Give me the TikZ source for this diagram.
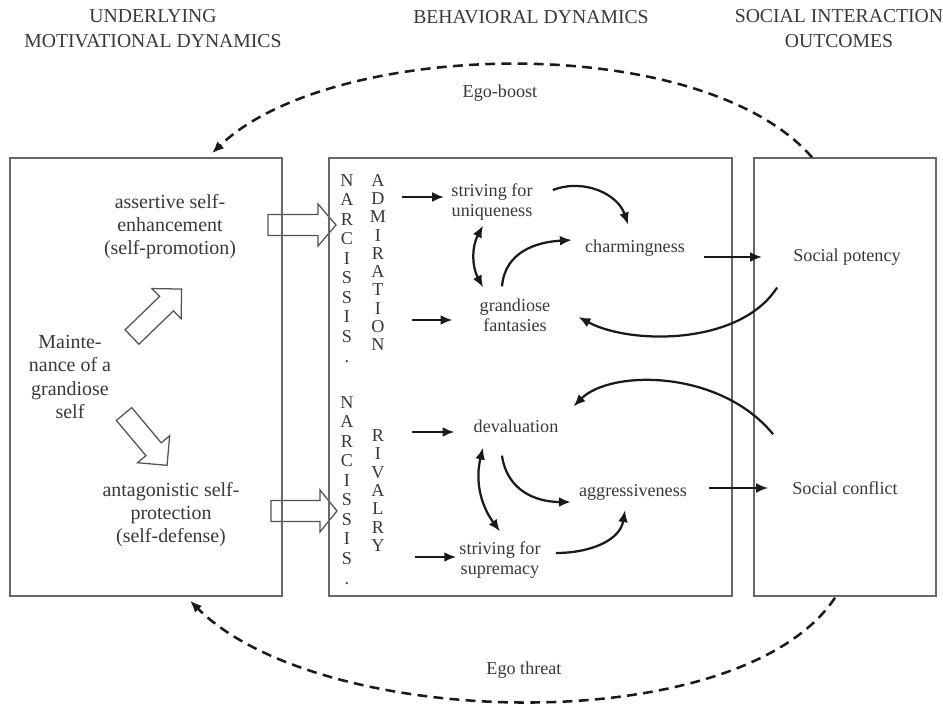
\documentclass[tikz,border=0pt]{standalone}
\usepackage{fontspec}
\setmainfont{Liberation Serif}
\usepackage{tikz}
\usetikzlibrary{arrows.meta, fit}

\definecolor{boxgray}{HTML}{686868}
\definecolor{textgray}{HTML}{383838}
\definecolor{arrowgray}{HTML}{1A1A1A}

\tikzset{
  box/.style={draw=boxgray, line width=1pt, inner sep=0pt},
  header/.style={text=textgray, font=\fontsize{14}{17.8}\selectfont, align=center},
  lefttxt/.style={text=textgray, font=\fontsize{14.2}{16.4}\selectfont, align=center, inner sep=1.4pt},
  midtxt/.style={text=textgray, font=\fontsize{12.9}{14.2}\selectfont, align=center, inner sep=1.4pt},
  letters/.style={text=textgray, align=center, inner sep=0pt, anchor=north},
  conn/.style={draw=arrowgray, line width=1.6pt, -{Latex[length=8.5pt,width=7pt]}},
  twoway/.style={conn, {Latex[length=8.5pt,width=7pt]}-{Latex[length=8.5pt,width=7pt]}},
  egoarrow/.style={conn, line width=1.8pt, dash pattern=on 7pt off 4.5pt},
  blockarrow/.style={draw=boxgray!80!black, fill=white, line width=0.9pt}
}

\begin{document}
\begin{tikzpicture}[x=0.025cm, y=-0.025cm]
  \useasboundingbox (0,0) rectangle (943,709);

  % column headers
  \node[header] (hmot) at (153,29) {UNDERLYING\\MOTIVATIONAL DYNAMICS};
  \node[header] (hbeh) at (531,17) {BEHAVIORAL DYNAMICS};
  \node[header] (hsoc) at (839,29) {SOCIAL INTERACTION\\OUTCOMES};

  % block arrows
  \draw[blockarrow, shift={(132,337)}, rotate=44] (0,-10) -- (48,-10) -- (48,-21) -- (69,0) -- (48,21) -- (48,10) -- (0,10) -- cycle;
  \draw[blockarrow, shift={(124,414)}, rotate=-50] (0,-10) -- (46,-10) -- (46,-21) -- (67,0) -- (46,21) -- (46,10) -- (0,10) -- cycle;
  \draw[blockarrow, shift={(268,225)}] (0,-10.5) -- (50,-10.5) -- (50,-21) -- (68,0) -- (50,21) -- (50,10.5) -- (0,10.5) -- cycle;
  \draw[blockarrow, shift={(271,511)}] (0,-10.5) -- (49,-10.5) -- (49,-21) -- (66,0) -- (49,21) -- (49,10.5) -- (0,10.5) -- cycle;

  % boxes
  \node[box, fit={(10,158) (282,596)}] (motbox) {};
  \node[box, fit={(329,158) (732,596)}] (behbox) {};
  \node[box, fit={(754,158) (936,596)}] (socbox) {};

  % left column
  \node[lefttxt] (assert) at (170,227) {assertive self-\\enhancement\\(self-promotion)};
  \node[lefttxt] (maint) at (70,377) {Mainte-\\nance of a\\grandiose\\self};
  \node[lefttxt] (antag) at (171,515) {antagonistic self-\\protection\\(self-defense)};

  % letter columns
  \node[letters, font=\fontsize{12.9}{13.9}\selectfont] (narcadm) at (347,174) {N\\A\\R\\C\\I\\S\\S\\I\\S\\.};
  \node[letters, font=\fontsize{12.9}{13}\selectfont] (admir) at (378,174) {A\\D\\M\\I\\R\\A\\T\\I\\O\\N};
  \node[letters, font=\fontsize{12.9}{13.9}\selectfont] (narcriv) at (347,396) {N\\A\\R\\C\\I\\S\\S\\I\\S\\.};
  \node[letters, font=\fontsize{12.9}{13.1}\selectfont] (rival) at (378,429) {R\\I\\V\\A\\L\\R\\Y};

  % middle texts
  \node[midtxt] (strv) at (492,202) {striving for\\uniqueness};
  \node[midtxt] (grand) at (515,315) {grandiose\\fantasies};
  \node[midtxt] (charm) at (635,248) {charmingness};
  \node[midtxt] (deval) at (516,426) {devaluation};
  \node[midtxt] (aggr) at (633,492) {aggressiveness};
  \node[midtxt] (supr) at (500,560) {striving for\\supremacy};

  % right column
  \node[midtxt] (pot) at (847,257) {Social potency};
  \node[midtxt] (conf) at (845,488) {Social conflict};

  % loop labels
  \node[midtxt] (egob) at (500,93) {Ego-boost};
  \node[midtxt] (egot) at (524,670) {Ego threat};

  % arrows out of the letter columns
  \coordinate (ain1) at (402,197);
  \coordinate (ain2) at (412,320);
  \coordinate (rin1) at (412,432);
  \coordinate (rin2) at (415,557);
  \draw[conn, shorten >=3.6pt] (ain1) -- (ain1 -| strv.west);
  \draw[conn, shorten >=17.8pt] (ain2) -- (ain2 -| grand.west);
  \draw[conn, shorten >=12pt] (rin1) -- (rin1 -| deval.west);
  \draw[conn, shorten >=0.7pt] (rin2) -- (rin2 -| supr.west);

  % admiration paths
  \draw[conn] ([shift={(18,-12)}]strv.east) .. controls +(32,-12) and +(-10,-30) .. ([shift={(-7,-13)}]charm.north);
  \draw[twoway] ([shift={(-9,3)}]strv.south) to[bend right=28] ([shift={(-32,-9)}]grand.north);
  \draw[conn] ([shift={(-13,-10)}]grand.north) .. controls +(3,-35) and +(-35,2) .. ([shift={(-11,-8)}]charm.west);
  \draw[conn, shorten <=12pt, shorten >=20.6pt] (charm.east |- pot.west) -- (pot.west);
  \draw[conn] ([shift={(-14,20)}]pot.south west) .. controls +(-37,58) and +(52,28) .. ([shift={(26,2)}]grand.east);

  % rivalry paths
  \draw[conn] ([shift={(-17,-45)}]conf.north west) .. controls +(-53,-65) and +(37,-37) .. ([shift={(13,-11)}]deval.north east);
  \draw[conn, shorten <=14pt, shorten >=15.6pt] (aggr.east |- conf.west) -- (conf.west);
  \draw[conn] ([shift={(-14,21)}]deval.south) .. controls +(5,35) and +(-35,0) .. ([shift={(-6,10)}]aggr.west);
  \draw[twoway] ([shift={(-33,13)}]deval.south) to[bend right=25] ([shift={(0,-8)}]supr.north);
  \draw[conn] ([shift={(13,-7)}]supr.east) .. controls +(35,0) and +(-5,30) .. ([shift={(-8,8)}]aggr.south);

  % ego loops
  \draw[egoarrow] ([shift={(-33,0)}]socbox.north) .. controls +(-112,-128) and +(118,-114) .. ([shift={(66,-4)}]motbox.north);
  \draw[egoarrow] ([shift={(-10,1)}]socbox.south) .. controls +(-95,143) and +(130,130) .. ([shift={(44,4)}]motbox.south);
\end{tikzpicture}
\end{document}
